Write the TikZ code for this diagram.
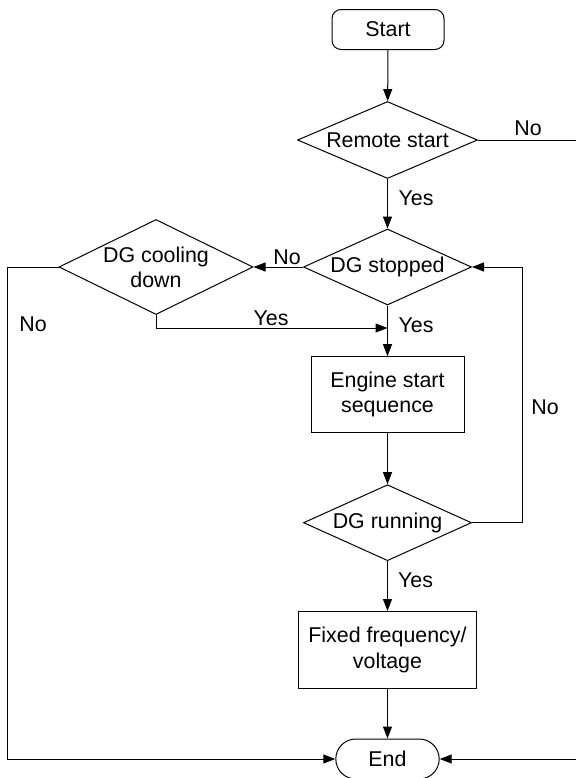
\documentclass[tikz,border=0pt]{standalone}
\usepackage{fontspec}
\setmainfont{Liberation Sans}
\usetikzlibrary{arrows.meta,shapes.geometric}
\begin{document}
\begin{tikzpicture}[x=0.5pt,y=-0.5pt,
  every node/.style={font=\fontsize{10.7}{12.6}\selectfont},
  line/.style={draw, line width=0.5pt},
  arr/.style={line, -{Triangle[length=6pt,width=4.5pt]}},
  dia/.style={draw, line width=0.5pt, diamond, inner sep=0pt, shape aspect=2},
  box/.style={draw, line width=0.5pt, rectangle, inner sep=0pt, align=center},
  term/.style={draw, line width=0.5pt, rectangle, inner sep=0pt},
  lab/.style={inner sep=0pt, anchor=center},
  dtext/.style={align=center, inner sep=0pt}
]
\useasboundingbox (0,0) rectangle (576,778);
\clip (0,0) rectangle (576,778);

\node[term, rounded corners=4.5pt, minimum width=56pt, minimum height=20pt] (start) at (388,29.5) {Start};
\node[dia, minimum width=90pt, minimum height=38.5pt,
      label={[dtext]center:Remote start}] (remote) at (387.5,140) {};
\node[dia, minimum width=84pt, minimum height=38pt,
      label={[dtext]center:DG stopped}] (stopped) at (387.5,267) {};
\node[dia, minimum width=97pt, minimum height=47.5pt,
      label={[dtext]center:{DG cooling\\down}}] (cooling) at (156,267) {};
\node[box, minimum width=76.5pt, minimum height=38pt] (engine) at (387.5,394.7) {Engine start\\sequence};
\node[dia, minimum width=84pt, minimum height=38pt,
      label={[dtext]center:DG running}] (running) at (387.5,522.7) {};
\node[box, minimum width=89pt, minimum height=38.5pt] (fixed) at (387.5,650) {Fixed frequency/\\voltage};
\node[term, rounded corners=10pt, minimum width=51.7pt, minimum height=20pt] (end) at (387.5,759) {End};

\coordinate (rtop) at (582,140);
\coordinate (rbot) at (582,759);
\coordinate (ltop) at (7,267);
\coordinate (lbot) at (7,759);
\coordinate (cyes) at (156,328);
\coordinate (myes) at (387.5,328);
\coordinate (loopb) at (522.7,522.7);
\coordinate (loopt) at (522.7,267);

\draw[arr] (start) -- (remote);
\draw[line] (remote.east) -- (rtop) -- (rbot);
\draw[arr] (rbot) -- (end.east);
\draw[arr] (remote) -- (stopped);
\draw[arr] (stopped.west) -- (cooling.east);
\draw[line] (cooling.west) -- (ltop) -- (lbot);
\draw[arr] (lbot) -- (end.west);
\draw[line] (cooling.south) -- (cyes);
\draw[arr] (cyes) -- (myes);
\draw[arr] (stopped) -- (engine);
\draw[arr] (engine) -- (running);
\draw[line] (running.east) -- (loopb) -- (loopt);
\draw[arr] (loopt) -- (stopped.east);
\draw[arr] (running) -- (fixed);
\draw[arr] (fixed) -- (end);

\node[lab] (l1) at (528,128) {No};
\node[lab] (l2) at (416,198) {Yes};
\node[lab] (l3) at (287,257) {No};
\node[lab] (l4) at (33,324) {No};
\node[lab] (l5) at (271,318) {Yes};
\node[lab] (l6) at (416,325) {Yes};
\node[lab] (l7) at (545,407) {No};
\node[lab] (l8) at (415.5,580) {Yes};
\end{tikzpicture}
\end{document}
